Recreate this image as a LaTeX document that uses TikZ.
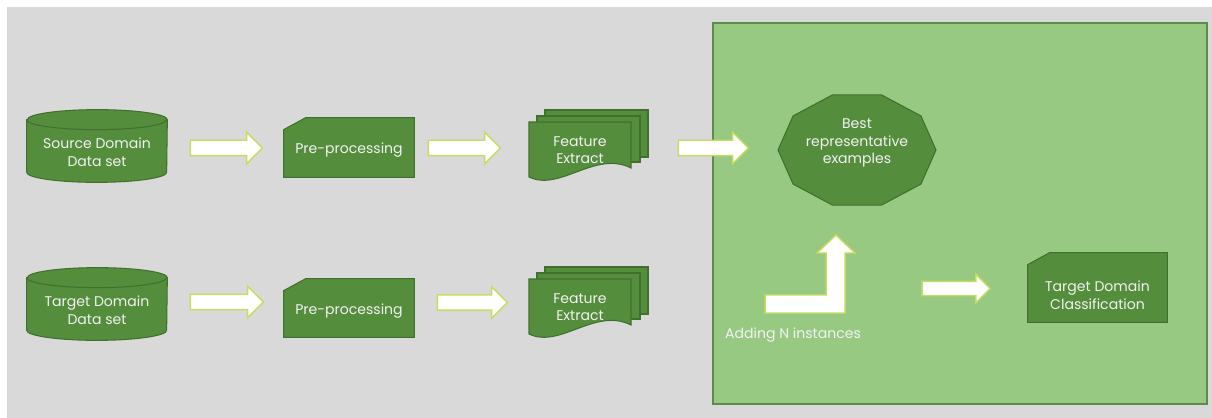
\documentclass[tikz,border=0pt]{standalone}
\usepackage{fontspec}
\newfontfamily\diagfont{Poppins}
\usetikzlibrary{shapes.arrows,positioning}

\definecolor{bggray}{HTML}{D9D9D9}
\definecolor{panelgreen}{HTML}{97C983}
\definecolor{panelline}{HTML}{5E8A4C}
\definecolor{boxgreen}{HTML}{548D3C}
\definecolor{boxline}{HTML}{41702E}
\definecolor{arrowline}{HTML}{C4DD5E}
\definecolor{labelwhite}{HTML}{F2F2F2}

\tikzset{
  greenbox/.style={fill=boxgreen, draw=boxline, line width=0.6pt},
  boxtext/.style={text=labelwhite, font=\diagfont\fontsize{8}{10}\selectfont, align=center},
  blockarrow/.style={single arrow, fill=white, draw=arrowline, line width=0.85pt,
    inner xsep=0pt, inner ysep=0.14cm, minimum width=0.6cm, single arrow head extend=0.16cm},
  frame/.style={inner sep=0pt, minimum width=2.6cm},
}

% stack of three documents, front one with a wavy bottom
\newcommand{\docstack}[1]{%
  \begin{scope}[shift={(#1)}]
    \path[greenbox] (-35,-40) rectangle (68,7);
    \path[greenbox] (-43,-34) rectangle (60,12);
    \path[greenbox] (-51,-28) -- (51,-28) -- (51,18)
      .. controls (15,0) and (-20,42) .. (-51,27) -- cycle;
  \end{scope}}

% box with its top left corner snipped off
\newcommand{\snipbox}[1]{%
  \path[greenbox] ([yshift=-0.24cm]#1.north west) -- ([xshift=0.44cm]#1.north west)
    -- (#1.north east) -- (#1.south east) -- (#1.south west) -- cycle;}

% upright drum (data store)
\newcommand{\drum}[1]{%
  \path[greenbox] ([yshift=-0.2cm]#1.north west) -- ([yshift=0.2cm]#1.south west)
    arc[start angle=180, end angle=360, x radius=1.4cm, y radius=0.2cm]
    -- ([yshift=-0.2cm]#1.north east)
    arc[start angle=0, end angle=180, x radius=1.4cm, y radius=0.2cm] -- cycle;
  \draw[boxline, line width=0.6pt] ([yshift=-0.2cm]#1.north west)
    arc[start angle=180, end angle=360, x radius=1.4cm, y radius=0.2cm];}

\begin{document}
\begin{tikzpicture}[x=0.02cm, y=-0.02cm]
  \useasboundingbox (0,0) rectangle (1212,418);
  \fill[bggray] (7,7) rectangle (1212,418);
  \path[fill=panelgreen, draw=panelline, line width=1.1pt] (713,23) rectangle (1207,404);

  % source row
  \node[frame, minimum width=2.8cm, minimum height=1.44cm] (src) at (97,146) {};
  \drum{src}
  \node[boxtext] (srctext) at ([yshift=-0.12cm]src.center) {Source Domain\\Data set};
  \node[frame, minimum height=1.18cm] (pre1) at (349,147.5) {};
  \snipbox{pre1}
  \node[boxtext] (pretext1) at ([yshift=-0.06cm]pre1.center) {Pre-processing};
  \coordinate (f1) at (580,150);
  \docstack{f1}
  \node[boxtext] (feat1) at (f1) {Feature\\Extract};
  \node[blockarrow, minimum height=1.44cm] (a1) at (222.5,148) {};
  \node[blockarrow, minimum height=1.44cm] (a2) at (460.5,148) {};
  \node[blockarrow, minimum height=1.4cm] (a3) at (709.5,148) {};

  % target row
  \node[frame, minimum width=2.8cm, minimum height=1.44cm] (tgt) at (97,304) {};
  \drum{tgt}
  \node[boxtext] (tgttext) at ([yshift=-0.12cm]tgt.center) {Target Domain\\Data set};
  \node[frame, minimum height=1.16cm] (pre2) at (349,308) {};
  \snipbox{pre2}
  \node[boxtext] (pretext2) at ([yshift=-0.06cm]pre2.center) {Pre-processing};
  \coordinate (f2) at (580,307);
  \docstack{f2}
  \node[boxtext] (feat2) at (f2) {Feature\\Extract};
  \node[blockarrow, minimum height=1.46cm] (b1) at (223,302) {};
  \node[blockarrow, minimum height=1.4cm, minimum width=0.58cm] (b2) at (468.5,302.5) {};

  % green panel
  \coordinate (b) at (857,150);
  \begin{scope}[shift={(b)}]
    \path[greenbox] (0:79 and 58) \foreach \a in {36,72,...,324} {-- (\a:79 and 58)} -- cycle;
  \end{scope}
  \node[boxtext] (best) at (857,143) {Best\\representative\\examples};

  \coordinate (addstart) at (765,295);
  \path[fill=white, draw=arrowline, line width=0.85pt] (addstart) -- (826,295) -- (826,253)
    -- (817,253) -- (836,235) -- (855,253) -- (845,253) -- (845,313) -- (765,313) -- cycle;
  \node[boxtext] (add) at (793,335) {Adding N instances};

  \node[blockarrow, minimum height=1.36cm, minimum width=0.54cm, inner ysep=0.13cm,
    single arrow head extend=0.14cm] (c1) at (952.5,288.5) {};
  \node[frame, minimum width=2.78cm, minimum height=1.38cm] (cls) at (1097.5,287.5) {};
  \snipbox{cls}
  \node[boxtext] (clstext) at ([yshift=-0.15cm]cls.center) {Target Domain\\Classification};
\end{tikzpicture}
\end{document}
